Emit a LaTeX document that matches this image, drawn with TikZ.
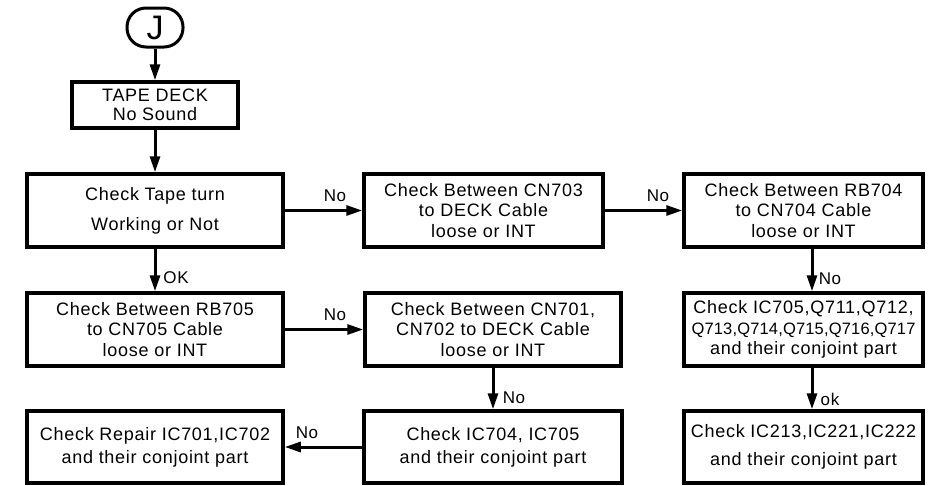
\documentclass[tikz,border=0pt]{standalone}
\usepackage{fontspec}
\setmainfont[LetterSpace=4]{Liberation Sans}
\newfontfamily\narrowfam[LetterSpace=1]{Liberation Sans}
\usetikzlibrary{arrows.meta,calc}
\begin{document}
\begin{tikzpicture}[x=1pt,y=-1pt,
  box/.style={draw,line width=3.5pt,minimum height=73pt,align=center,inner sep=0pt,font=\fontsize{18}{23}\selectfont},
  three/.style={font=\fontsize{18}{20.5}\selectfont},
  conn/.style={line width=3pt,-{Triangle[length=16pt,width=10pt]}},
  lbl/.style={font=\fontsize{17}{18}\selectfont,inner sep=0pt}]
\useasboundingbox (0,0) rectangle (935,485);
\node[draw,line width=3pt,rounded corners=19pt,minimum width=56pt,minimum height=39pt,inner sep=0pt,font=\fontsize{34}{34}\selectfont] (J) at (155,27.5) {J};
\node[box,minimum width=166pt,minimum height=46pt,font=\fontsize{18}{19}\selectfont] (tape) at (155,105) {TAPE DECK\\No Sound};
\node[box,minimum width=256pt] (check) at (155,210.5) {Check Tape turn\\[7pt]Working or Not};
\node[box,three,minimum width=256pt] (rb705) at (155,329.5) {Check Between RB705\\to CN705 Cable\\loose or INT};
\node[box,minimum width=256pt,minimum height=72pt] (repair) at (155,447) {Check Repair IC701,IC702\\and their conjoint part};
\node[box,three,minimum width=239pt] (cn703) at (483.5,210.5) {Check Between CN703\\to DECK Cable\\loose or INT};
\node[box,three,minimum width=256pt] (cn701) at (493,329.5) {Check Between CN701,\\CN702 to DECK Cable\\loose or INT};
\node[box,minimum width=258pt,minimum height=72pt] (ic704) at (493,447) {Check IC704, IC705\\and their conjoint part};
\node[box,three,minimum width=239pt] (rb704) at (803.5,210.5) {Check Between RB704\\to CN704 Cable\\loose or INT};
\node[box,three,minimum width=239pt] (ic705) at (803.5,329.5) {Check IC705,Q711,Q712,\\{\narrowfam\fontsize{16.5}{20.5}\selectfont Q713,Q714,Q715,Q716,Q717}\\and their conjoint part};
\node[box,minimum width=239pt,minimum height=72pt] (ic213) at (803.5,447) {Check IC213,IC221,IC222\\[5pt]and their conjoint part};
\draw[conn] (J) -- (tape);
\draw[conn] (tape) -- (check);
\draw[conn] (check) -- (rb705);
\draw[conn] (check) -- (cn703);
\draw[conn] (cn703) -- (rb704);
\draw[conn] (rb705.east) -- (rb705.east -| cn701.west);
\draw[conn] (cn701) -- (ic704);
\draw[conn] (ic704) -- (repair);
\draw[conn] ($(rb704.south)+(8.5,0)$) -- ($(ic705.north)+(8.5,0)$);
\draw[conn] ($(ic705.south)+(8.5,0)$) -- ($(ic213.north)+(8.5,0)$);
\node[lbl] (l1) at (335,196) {No};
\node[lbl] (l2) at (658,196) {No};
\node[lbl] (l3) at (335,315) {No};
\node[lbl] (l4) at (307,433) {No};
\node[lbl] (l5) at (176,278) {OK};
\node[lbl] (l6) at (514,398) {No};
\node[lbl] (l7) at (830,279) {No};
\node[lbl] (l8) at (830,399) {ok};
\end{tikzpicture}
\end{document}
